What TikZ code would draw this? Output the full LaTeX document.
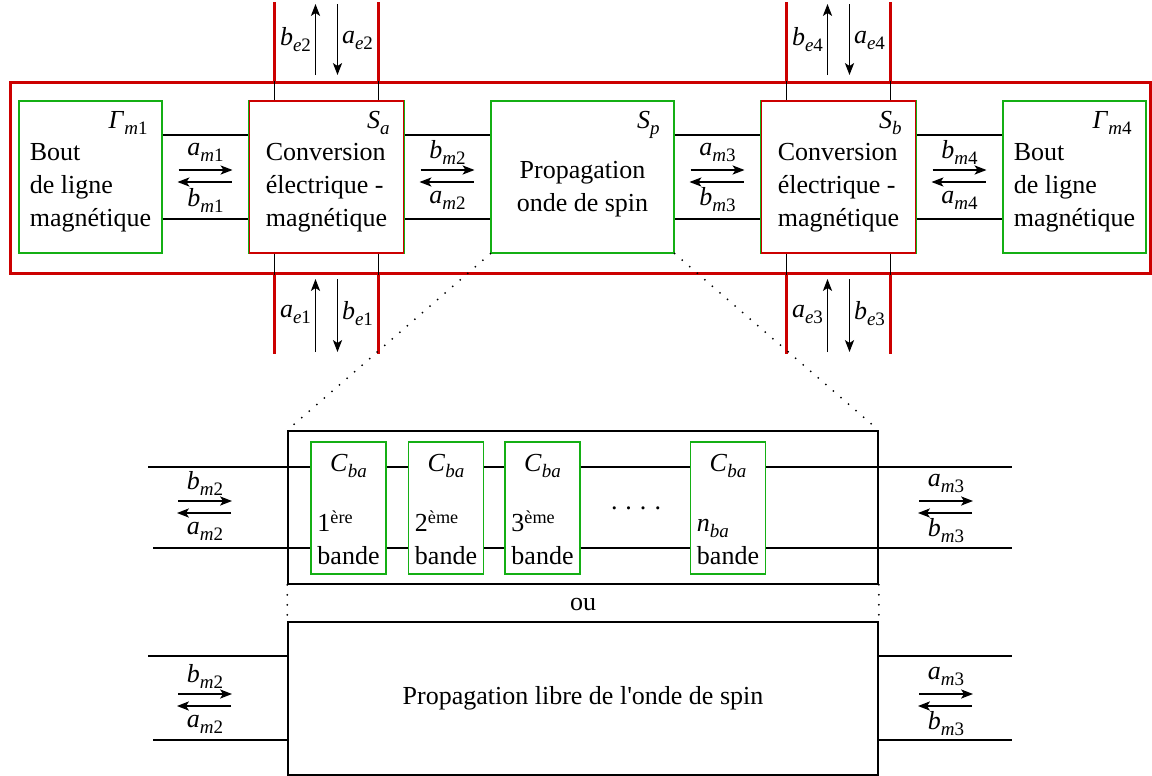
\documentclass[tikz,border=0pt]{standalone}
\usepackage{fontspec}
\setmainfont{Liberation Serif}
\usetikzlibrary{arrows.meta, calc}

\definecolor{rouge}{RGB}{204,0,0}
\definecolor{vert}{RGB}{20,175,20}
\newcommand{\sg}[3]{\textit{#1}\raisebox{-3pt}{\fontsize{9.5}{9.5}\selectfont\textit{#2}#3}}

\tikzset{
  bloc/.style 2 args={draw=vert, line width=0.6pt, fill=white, inner sep=0pt,
    minimum width=#1, minimum height=#2},
  boite/.style={draw, line width=0.75pt, inner sep=0pt,
    minimum width=295pt, minimum height=76.5pt},
  ligne/.style={line width=1pt},
  port/.style={line width=0.5pt},
  portrouge/.style={draw=rouge, line width=1.5pt},
  fleche/.style={line width=0.6pt, -{Stealth[length=6pt, width=4.6pt, inset=1.5pt]}},
  pointille/.style={line width=1pt, line cap=round, dash pattern=on 0pt off 5pt},
}

\begin{document}
\begin{tikzpicture}[x=0.5pt, y=-0.5pt, font=\fontsize{13}{16.5}\selectfont]
\useasboundingbox (0,0) rectangle (1152,776);

% cadre rouge du dispositif
\node[draw=rouge, line width=1.5pt, inner sep=0pt, minimum width=570pt, minimum height=95.5pt] (cadre) at (580,177.5) {};

% blocs
\node[bloc={71.5pt}{76pt}] (bout1) at (90.5,177) {};
\node[bloc={77.5pt}{76pt}, draw=rouge] (Sa) at (326.5,177) {};
\node[bloc={91.5pt}{76pt}] (Sp) at (582.5,177) {};
\node[bloc={77.5pt}{76pt}, draw=rouge] (Sb) at (838.5,177) {};
\node[bloc={71.5pt}{76pt}] (bout4) at (1074.5,177) {};
\foreach \s in {Sa,Sb}
  \draw[vert, line width=0.6pt] (\s.north west) -- (\s.south west) (\s.north east) -- (\s.south east);

% ports electriques
\foreach \s in {Sa,Sb}{
  \foreach \dx in {-26pt,26pt}{
    \coordinate (h) at ($(\s.north)+(\dx,0)$);
    \coordinate (b) at ($(\s.south)+(\dx,0)$);
    \draw[port] (h) -- (h |- cadre.north);
    \draw[port] (b) -- (b |- cadre.south);
    \draw[portrouge] (h |- cadre.north) -- ++(0,-79);
    \draw[portrouge] (b |- cadre.south) -- ++(0,79);
  }
}

\foreach \g/\d in {bout1/Sa, Sa/Sp, Sp/Sb, Sb/bout4}{
  \draw[ligne] ([yshift=-17.5pt]\g.north east) -- ([yshift=-17.5pt]\d.north west);
  \draw[ligne] ([yshift=17.5pt]\g.south east) -- ([yshift=17.5pt]\d.south west);
}

\node[align=left] (t1) at (90.5,188) {Bout\\de ligne\\magnétique};
\node[align=left] (ta) at (326.5,188) {Conversion\\électrique -\\magnétique};
\node[align=center] (tp) at (582.5,189) {Propagation\\onde de spin};
\node[align=left] (tb) at (838.5,188) {Conversion\\électrique -\\magnétique};
\node[align=left] (t4) at (1074.5,188) {Bout\\de ligne\\magnétique};

\node[anchor=north east] (g1) at ([xshift=-4pt,yshift=-2pt]bout1.north east) {\sg{Γ}{m}{1}};
\node[anchor=north east] (sa) at ([xshift=-4pt,yshift=-2pt]Sa.north east) {\sg{S}{a}{}};
\node[anchor=north east] (sp) at ([xshift=-4pt,yshift=-2pt]Sp.north east) {\sg{S}{p}{}};
\node[anchor=north east] (sb) at ([xshift=-4pt,yshift=-2pt]Sb.north east) {\sg{S}{b}{}};
\node[anchor=north east] (g4) at ([xshift=-4pt,yshift=-2pt]bout4.north east) {\sg{Γ}{m}{4}};

% ondes electriques
\foreach \cx/\nh/\nb in {326.5/2/1, 838.5/4/3}{
  \draw[fleche] (\cx-11,75) -- (\cx-11,4);
  \draw[fleche] (\cx+11,4) -- (\cx+11,75);
  \draw[fleche] (\cx-11,352) -- (\cx-11,279);
  \draw[fleche] (\cx+11,279) -- (\cx+11,352);
  \node (be\nh) at (\cx-31,40) {\sg{b}{e}{\nh}};
  \node (ae\nh) at (\cx+31,40) {\sg{a}{e}{\nh}};
  \node (ae\nb) at (\cx-31,314) {\sg{a}{e}{\nb}};
  \node (be\nb) at (\cx+31,314) {\sg{b}{e}{\nb}};
}

% ondes magnetiques
\foreach \cx/\cy/\h/\b [count=\i] in {
    205.5/176/{\sg{a}{m}{1}}/{\sg{b}{m}{1}},
    447.5/176/{\sg{b}{m}{2}}/{\sg{a}{m}{2}},
    717.5/176/{\sg{a}{m}{3}}/{\sg{b}{m}{3}},
    959.5/176/{\sg{b}{m}{4}}/{\sg{a}{m}{4}},
    205/507/{\sg{b}{m}{2}}/{\sg{a}{m}{2}},
    946/507/{\sg{a}{m}{3}}/{\sg{b}{m}{3}},
    205/700/{\sg{b}{m}{2}}/{\sg{a}{m}{2}},
    946/700/{\sg{a}{m}{3}}/{\sg{b}{m}{3}}}{
  \node (oh\i) at (\cx,\cy-24) {\h};
  \node (ob\i) at (\cx,\cy+24) {\b};
  \draw[fleche] (\cx-27,\cy-6) -- (\cx+27,\cy-6);
  \draw[fleche] (\cx+26,\cy+6) -- (\cx-28,\cy+6);
}

% detail des bandes
\node[boite] (detail) at (583,507.5) {};
\node[boite] (libre) at (583,698.5) {Propagation libre de l\textquotesingle onde de spin};
\draw[pointille] (Sp.south west) -- (detail.north west);
\draw[pointille] (Sp.south east) -- (detail.north east);
\draw[pointille] (detail.south west) -- (libre.north west);
\draw[pointille] (detail.south east) -- (libre.north east);
\node (ou) at (583,604) {ou};

\foreach \n/\cx in {C1/348.5, C2/446, C3/542.5, Cn/728}{
  \node[bloc={37.5pt}{66pt}] (\n) at (\cx,508) {};
  \node (cba\n) at ([yshift=-12.5pt]\n.north) {\sg{C}{ba}{}};
}
\node[align=left, anchor=south, inner sep=0pt] (r1) at ([yshift=4.5pt]C1.south) {1\textsuperscript{ère}\\bande};
\node[align=left, anchor=south, inner sep=0pt] (r2) at ([yshift=4.5pt]C2.south) {2\textsuperscript{ème}\\bande};
\node[align=left, anchor=south, inner sep=0pt] (r3) at ([yshift=4.5pt]C3.south) {3\textsuperscript{ème}\\bande};
\node[align=left, anchor=south, inner sep=0pt] (rn) at ([yshift=4.5pt]Cn.south) {\sg{n}{ba}{}\\bande};
\node (pts) at (636,508) {.\hspace{4pt}.\hspace{4pt}.\hspace{4pt}.};

\coordinate (gh) at (148,467);
\coordinate (gb) at (153,548);
\coordinate (dh) at (1012,467);
\coordinate (db) at (1012,548);
\foreach \y in {gh,gb}{
  \draw[ligne] (\y) -- (C1.west |- \y);
  \draw[ligne] (C1.east |- \y) -- (C2.west |- \y);
  \draw[ligne] (C2.east |- \y) -- (C3.west |- \y);
  \draw[ligne] (C3.east |- \y) -- (Cn.west |- \y);
}
\foreach \y in {dh,db}
  \draw[ligne] (Cn.east |- \y) -- (\y);

\coordinate (gh2) at (148,656);
\coordinate (gb2) at (153,740);
\coordinate (dh2) at (1012,656);
\coordinate (db2) at (1012,740);
\draw[ligne] (gh2) -- (libre.west |- gh2);
\draw[ligne] (gb2) -- (libre.west |- gb2);
\draw[ligne] (libre.east |- dh2) -- (dh2);
\draw[ligne] (libre.east |- db2) -- (db2);
\end{tikzpicture}
\end{document}
